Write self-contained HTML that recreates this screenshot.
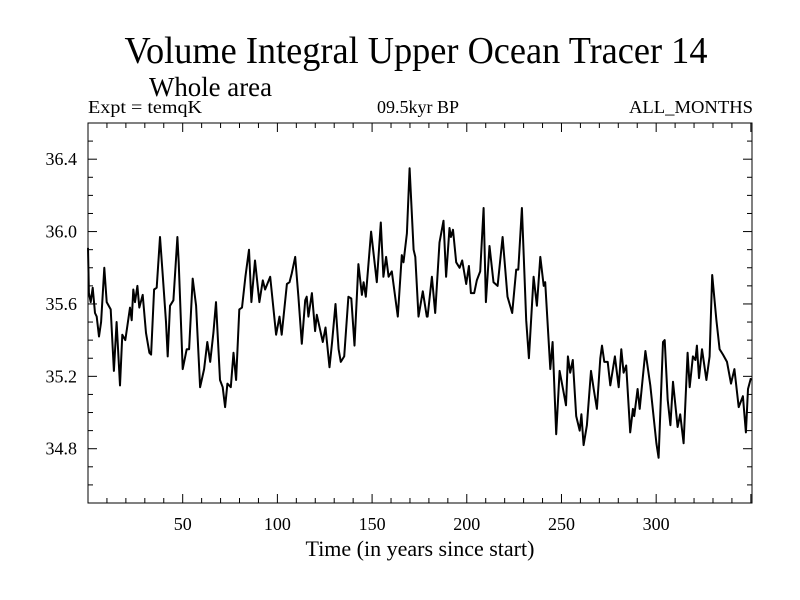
<!DOCTYPE html>
<html><head><meta charset="utf-8"><style>
body{margin:0;background:#fff;}
svg{display:block;font-family:"Liberation Serif",serif;}
</style></head><body>
<svg id="chart" width="800" height="600" viewBox="0 0 800 600">
<text x="416" y="63" font-size="38" text-anchor="middle" textLength="583" lengthAdjust="spacingAndGlyphs">Volume Integral Upper Ocean Tracer 14</text>
<text x="149" y="96" font-size="27" textLength="123" lengthAdjust="spacingAndGlyphs">Whole area</text>
<text x="88" y="113" font-size="18" textLength="114" lengthAdjust="spacingAndGlyphs">Expt = temqK</text>
<text x="418" y="113" font-size="18" text-anchor="middle">09.5kyr BP</text>
<text x="753" y="113" font-size="18" text-anchor="end" textLength="124" lengthAdjust="spacingAndGlyphs">ALL_MONTHS</text>
<rect x="88" y="123" width="664" height="380" fill="none" stroke="#000" stroke-width="1"/>
<g id="ticks"></g>
<path id="series" fill="none" stroke="#000" stroke-width="2" stroke-linejoin="round"/>
<text x="420" y="556" font-size="22" text-anchor="middle">Time (in years since start)</text>
</svg>
<script>
const years = [0,0.5,1.4,2.5,3.7,4.6,5.8,6.9,8.6,9.9,12.0,13.7,15.1,16.9,18.1,19.7,22.2,23.1,23.9,24.8,26.1,27.1,28.9,30.6,32.4,33.3,34.9,36.3,38.0,39.4,41.2,42.1,43.3,45.1,47.2,47.9,50.0,52.1,53.4,55.3,57.1,59.2,61.3,63.0,64.5,66.2,67.6,69.7,71.1,72.4,73.6,75.4,76.8,78.2,79.9,81.3,83.1,85.0,86.3,88.2,90.5,
92.3,93.5,96.2,99.3,101.1,102.3,105.0,106.4,107.6,109.4,111.1,112.9,114.7,115.5,116.4,118.2,119.9,120.8,124.0,125.4,127.5,128.9,130.7,132.3,133.5,135.3,137.5,139.0,140.7,142.8,144.6,145.5,146.7,149.5,152.5,154.6,156.0,157.4,158.7,160.4,163.6,165.7,166.6,168.4,169.8,171.9,172.8,174.5,176.8,178.9,
179.3,181.6,183.3,185.6,187.7,189.1,190.9,191.6,192.7,194.4,196.2,197.6,199.7,201.1,202.2,203.9,205.3,207.1,208.9,210.1,212.0,214.1,216.3,218.9,221.5,224.0,226.1,227.2,229.1,231.4,232.8,235.3,237.0,238.8,240.6,241.4,244.1,245.3,247.2,249.0,250.8,252.4,253.4,254.6,256.0,257.8,259.6,260.5,261.7,263.4,265.6,267.0,268.7,270.5,
271.4,272.6,274.4,275.8,278.2,280.2,281.6,282.8,284.2,286.3,287.7,288.4,290.2,291.3,294.3,296.9,300.1,301.3,303.6,304.5,306.1,307.5,308.9,311.3,312.7,314.5,316.6,317.7,319.4,320.7,321.5,322.6,324.2,326.5,328.2,329.6,331.8,333.5,335.3,337.4,339.5,341.3,343.6,345.8,347.4,348.5,350];
const values = [35.91,35.66,35.61,35.69,35.55,35.53,35.42,35.50,35.80,35.61,35.57,35.23,35.50,35.15,35.43,35.40,35.58,35.51,35.68,35.61,35.70,35.58,35.65,35.44,35.33,35.32,35.68,35.69,35.97,35.77,35.50,35.31,35.59,35.62,35.97,35.83,35.24,35.35,35.35,35.74,35.59,35.14,35.24,35.39,35.28,35.44,35.61,35.18,35.14,35.03,35.16,35.14,35.33,35.18,35.57,35.58,35.75,35.90,35.61,35.84,35.61,
35.73,35.68,35.75,35.43,35.53,35.43,35.71,35.72,35.77,35.86,35.64,35.38,35.62,35.64,35.53,35.66,35.45,35.54,35.39,35.47,35.25,35.39,35.60,35.35,35.28,35.31,35.64,35.63,35.37,35.82,35.65,35.72,35.64,36.00,35.72,36.05,35.75,35.86,35.75,35.78,35.53,35.87,35.83,35.99,36.35,35.90,35.86,35.53,35.67,35.53,
35.53,35.75,35.55,35.94,36.06,35.75,36.02,35.97,36.01,35.83,35.80,35.84,35.71,35.81,35.66,35.66,35.73,35.78,36.13,35.61,35.92,35.72,35.70,35.97,35.64,35.55,35.79,35.79,36.13,35.51,35.30,35.75,35.59,35.86,35.70,35.72,35.24,35.39,34.88,35.23,35.13,35.04,35.31,35.22,35.29,34.98,34.90,34.99,34.82,34.93,35.23,35.13,35.02,35.30,
35.37,35.28,35.28,35.15,35.31,35.14,35.35,35.22,35.26,34.89,35.02,34.98,35.13,35.02,35.34,35.15,34.83,34.75,35.39,35.40,35.07,34.93,35.17,34.92,34.99,34.83,35.33,35.14,35.31,35.29,35.37,35.19,35.35,35.18,35.31,35.76,35.51,35.35,35.32,35.28,35.16,35.24,35.03,35.09,34.89,35.13,35.19];
const xTickLabels = [50,100,150,200,250,300];
const yTickLabels = [34.8,35.2,35.6,36.0,36.4];

const X0=88,X1=752,Y0=123,Y1=503,XMIN=0,XMAX=350.6,YMIN=34.5,YMAX=36.6;
function sx(v){return X0+(v-XMIN)/(XMAX-XMIN)*(X1-X0);}
function sy(v){return Y1-(v-YMIN)/(YMAX-YMIN)*(Y1-Y0);}
const NS='http://www.w3.org/2000/svg';
const g=document.getElementById('ticks');
function line(x1,y1,x2,y2,name){
  const l=document.createElementNS(NS,'line');
  l.setAttribute('x1',x1);l.setAttribute('y1',y1);l.setAttribute('x2',x2);l.setAttribute('y2',y2);
  l.setAttribute('stroke','#000');l.setAttribute('stroke-width','1');
  
  
  g.appendChild(l);
}
function text(x,y,s,anchor,size,name){
  const t=document.createElementNS(NS,'text');
  t.setAttribute('x',x);t.setAttribute('y',y);t.setAttribute('font-size',size);t.setAttribute('text-anchor',anchor);
  t.textContent=s;
  
  
  g.appendChild(t);
}
for(let yr=10;yr<XMAX;yr+=10){
  const x=sx(yr), L=(yr%50===0)?9:5;
  line(x,Y1,x,Y1-L,'x-tick');
  line(x,Y0,x,Y0+L,'x-tick-top');
}
xTickLabels.forEach(v=>text(sx(v),530,String(v),'middle',18,'x-tick-label'));
for(let k=35;k<=366;k++){
  const v=k/10; if(v<YMIN+0.01||v>YMAX-0.01) continue;
  const y=sy(v), major=(k%4===0);
  const L=major?9:5;
  line(X0,y,X0+L,y,'y-tick');
  line(X1,y,X1-L,y,'y-tick-right');
}
yTickLabels.forEach(v=>text(77,sy(v)+6,v.toFixed(1),'end',18,'y-tick-label'));
let d='';
years.forEach((yr,i)=>{d+=(i?'L':'M')+sx(yr).toFixed(1)+','+sy(values[i]).toFixed(1);});
document.getElementById('series').setAttribute('d',d);
</script>
</body></html>
